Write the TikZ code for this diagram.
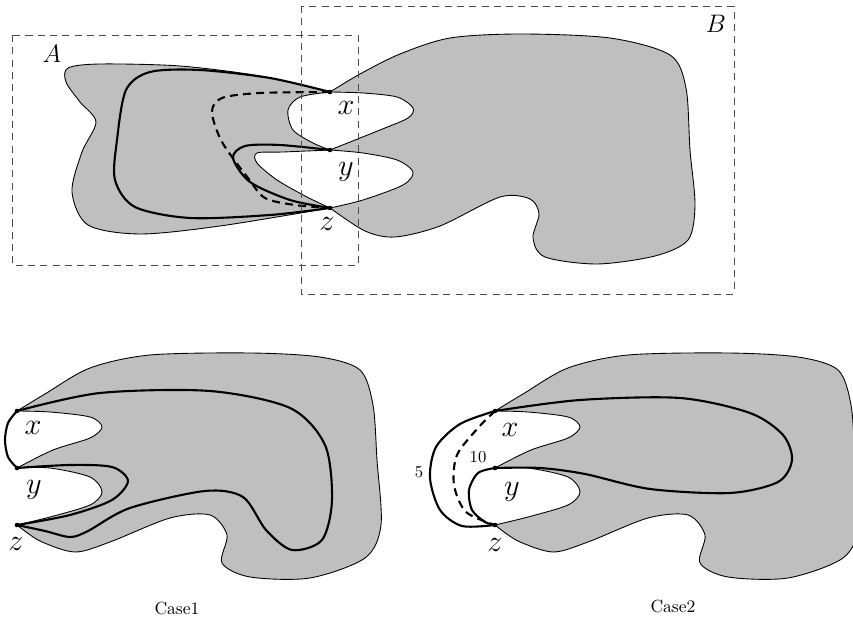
\documentclass[tikz,border=0pt]{standalone}
\usepackage{tikz}
\newcommand\casebase[1]{%
  \coordinate (#1x) at (17,411);
  \coordinate (#1y) at (17,468);
  \coordinate (#1z) at (17,525);
  \fill[black!25] plot[smooth] coordinates {(#1x) (45,394) (90,368) (150,355) (250,353) (320,357) (360,370) (373,405) (377,460) (381,525) (365,558) (310,578) (250,577) (222,563) (227,535) (210,515) (170,518) (110,542) (75,552) (40,541) (#1z)} -- cycle;
  \draw[rim] plot[smooth] coordinates {(#1x) (45,394) (90,368) (150,355) (250,353) (320,357) (360,370) (373,405) (377,460) (381,525) (365,558) (310,578) (250,577) (222,563) (227,535) (210,515) (170,518) (110,542) (75,552) (40,541) (#1z)};
  \fill[white] plot[smooth] coordinates {(#1x) (50,412) (90,417) (102,427) (90,438) (53,450) (#1y)} -- cycle;
  \draw[rim] plot[smooth] coordinates {(#1x) (50,412) (90,417) (102,427) (90,438) (53,450) (#1y)};
  \fill[white] plot[smooth] coordinates {(#1y) (50,468) (90,477) (102,492) (90,505) (50,517) (#1z)} -- cycle;
  \draw[rim] plot[smooth] coordinates {(#1y) (50,468) (90,477) (102,492) (90,505) (50,517) (#1z)};
}
\begin{document}
\begin{tikzpicture}[x=0.02cm,y=-0.02cm,
  region/.style={fill=black!25,draw=black,line width=0.5pt},
  hole/.style={fill=white,draw=black,line width=0.5pt},
  rim/.style={draw=black,line width=0.5pt},
  route/.style={draw=black,line width=1.2pt},
  dashroute/.style={draw=black,line width=1.2pt,dash pattern=on 4.5pt off 3pt},
  framebox/.style={draw=black!70,line width=0.5pt,dash pattern=on 4pt off 3pt},
  vlabel/.style={font=\fontsize{17}{20}\selectfont,anchor=base,inner sep=0pt},
  setlabel/.style={font=\fontsize{15}{18}\selectfont,anchor=base,inner sep=0pt},
  caselabel/.style={font=\fontsize{10}{12}\selectfont,anchor=base,inner sep=0pt},
  numlabel/.style={font=\fontsize{9.5}{11}\selectfont,anchor=base,inner sep=0pt}]
\clip (0,0) rectangle (853,624);

% ---------- top figure ----------
\coordinate (tx) at (330,92);
\coordinate (ty) at (330,150);
\coordinate (tz) at (330,208);
\path[region] plot[smooth] coordinates {(tx) (260,76) (180,66) (100,64) (68,68) (66,82) (80,102) (96,122) (82,152) (72,192) (88,225) (140,234) (220,226) (tz)}
  -- plot[smooth] coordinates {(tz) (365,231) (395,237) (440,226) (500,197) (530,199) (539,214) (533,238) (545,257) (597,264) (655,256) (688,240) (695,205) (690,150) (686,88) (670,55) (610,38) (520,34) (450,38) (400,54) (360,74) (tx)} -- cycle;
\path[hole] plot[smooth] coordinates {(tx) (363,93) (397,97) (413,108) (408,118) (380,130) (ty)}
  -- plot[smooth] coordinates {(ty) (313,143) (293,130) (288,110) (300,97) (tx)} -- cycle;
\path[hole] plot[smooth] coordinates {(ty) (363,153) (397,160) (413,172) (403,185) (363,200) (tz)}
  -- plot[smooth] coordinates {(tz) (307,197) (277,180) (257,163) (257,153) (283,152) (ty)} -- cycle;

\draw[route] plot[smooth] coordinates {(tx) (270,78) (200,70) (150,72) (126,90) (117,140) (115,180) (135,207) (190,218) (270,215) (tz)};
\draw[route] plot[smooth] coordinates {(ty) (280,145) (245,146) (233,158) (250,182) (290,200) (tz)};
\draw[dashroute] plot[smooth] coordinates {(tx) (260,93) (222,98) (212,112) (222,142) (248,178) (265,198) (295,205) (tz)};

\draw[framebox] (12,35) rectangle (358,265);
\draw[framebox] (301,6) rectangle (734,294);

\node[setlabel] (labA) at (52,63) {$A$};
\node[setlabel] (labB) at (716,33) {$B$};
\node[vlabel] (ltx) at (346,115) {$x$};
\node[vlabel] (lty) at (346,176) {$y$};
\node[vlabel] (ltz) at (327,231) {$z$};

% ---------- Case 1 ----------
\begin{scope}
\casebase{a}
\end{scope}
\draw[route] plot[smooth] coordinates {(ax) (8,423) (5,440) (8,457) (ay)};
\draw[route] plot[smooth] coordinates {(ax) (100,393) (210,391) (290,408) (325,445) (332,500) (322,540) (292,550) (266,530) (243,497) (205,491) (130,508) (88,531) (70,537) (45,531) (az)};
\draw[route] plot[smooth] coordinates {(ay) (70,465) (112,467) (128,481) (112,500) (70,515) (az)};
\node[vlabel] (lax) at (33,435) {$x$};
\node[vlabel] (lay) at (34,494) {$y$};
\node[vlabel] (laz) at (16,551) {$z$};
\node[caselabel] (c1) at (177,615) {Case1};

% ---------- Case 2 ----------
\begin{scope}[shift={(478,0)}]
\casebase{b}
\end{scope}
\draw[route] plot[smooth] coordinates {(bx) (460,424) (436,447) (430,478) (440,510) (462,526) (bz)};
\draw[dashroute] plot[smooth] coordinates {(bx) (478,428) (457,455) (454,485) (466,512) (bz)};
\draw[route] plot[smooth] coordinates {(by) (478,473) (469,490) (472,510) (485,522) (bz)};
\draw[route] plot[smooth] coordinates {(bx) (580,400) (680,398) (750,413) (783,435) (792,460) (778,482) (730,493) (650,489) (585,474) (540,468) (by)};
\node[numlabel] (n5) at (419,478) {5};
\node[numlabel] (n10) at (478,463) {10};
\node[vlabel] (lbx) at (510,437) {$x$};
\node[vlabel] (lby) at (512,496) {$y$};
\node[vlabel] (lbz) at (495,552) {$z$};
\node[caselabel] (c2) at (673,613) {Case2};

\foreach \p in {tx,ty,tz,ax,ay,az,bx,by,bz} \fill (\p) circle[radius=1.3pt];
\end{tikzpicture}
\end{document}
